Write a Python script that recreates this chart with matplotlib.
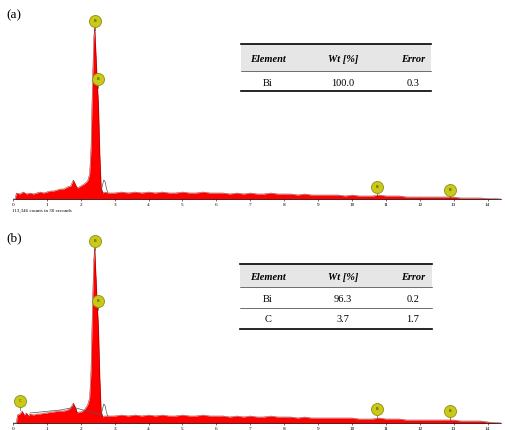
import matplotlib
matplotlib.use("Agg")
import matplotlib.pyplot as plt
from matplotlib.lines import Line2D
from matplotlib.patches import Rectangle

# ---------------- data ----------------
# Panel (a) spectrum: energy (keV) and counts (arbitrary units)
energy_a = [0.0, 0.06, 0.1, 0.2, 0.3, 0.4, 0.5, 0.6, 0.7, 0.8, 0.9, 1.0, 1.1, 1.2, 1.3,
            1.4, 1.5, 1.6, 1.7, 1.78, 1.85, 1.9, 1.95, 2.0, 2.1, 2.2, 2.26, 2.3, 2.34,
            2.38, 2.41, 2.44, 2.48, 2.52, 2.56, 2.6, 2.65, 2.7, 2.8, 2.9,
            3.0, 3.2, 3.4, 3.6, 3.8, 4.0, 4.2, 4.4, 4.6, 4.8, 5.0, 5.2, 5.4, 5.6, 5.8,
            6.0, 6.2, 6.4, 6.6, 6.8, 7.0, 7.2, 7.4, 7.6, 7.8, 8.0, 8.2, 8.4, 8.6, 8.8,
            9.0, 9.2, 9.4, 9.6, 9.8, 10.0, 10.2, 10.4, 10.6, 10.8, 11.0, 11.2, 11.4,
            11.6, 11.8, 12.0, 12.2, 12.4, 12.6, 12.8, 13.0, 13.2, 13.4, 13.6, 13.8,
            14.0, 14.2, 14.4]
counts_a = [0, 0, 6, 5, 7, 5, 6, 5, 6, 7, 6, 7, 8, 8, 9,
            10, 10, 12, 13, 19, 14, 11, 12, 13, 15, 18, 25, 50, 110,
            160, 172, 150, 120, 95, 45, 12, 6, 7, 6, 6,
            6, 7, 6, 7, 6, 7, 6, 7, 6, 6, 7, 6, 6, 7, 6,
            6, 6, 5, 6, 5, 6, 5, 5, 6, 5, 5, 5, 4, 5, 4,
            4, 4, 4, 4, 3, 4, 3, 3, 3, 4, 3, 3, 3,
            2, 2, 2, 2, 2, 2, 2, 2, 1, 1, 1, 1,
            0.5, 0.3, 0]
fit_energy_a = [2.6, 2.64, 2.68, 2.72, 2.76, 2.8]
fit_counts_a = [8, 14, 19, 17, 10, 6]

# Panel (b) spectrum
energy_b = [0.0, 0.1, 0.13, 0.2, 0.27, 0.33, 0.4, 0.45, 0.5, 0.6, 0.7, 0.8, 0.9, 1.0, 1.1,
            1.2, 1.3, 1.4, 1.5, 1.6, 1.7, 1.78, 1.85, 1.9, 1.95, 2.0, 2.1, 2.2, 2.26,
            2.3, 2.34, 2.38, 2.41, 2.44, 2.48, 2.52, 2.56, 2.6, 2.65, 2.7, 2.8, 2.9,
            3.0, 3.2, 3.4, 3.6, 3.8, 4.0, 4.2, 4.4, 4.6, 4.8, 5.0, 5.2, 5.4, 5.6, 5.8,
            6.0, 6.2, 6.4, 6.6, 6.8, 7.0, 7.2, 7.4, 7.6, 7.8, 8.0, 8.2, 8.4, 8.6, 8.8,
            9.0, 9.2, 9.4, 9.6, 9.8, 10.0, 10.2, 10.4, 10.6, 10.8, 11.0, 11.2, 11.4,
            11.6, 11.8, 12.0, 12.2, 12.4, 12.6, 12.8, 13.0, 13.2, 13.4, 13.6, 13.8,
            14.0, 14.2, 14.4]
counts_b = [0, 0, 8, 9, 12, 8, 10, 7, 9, 8, 9, 9, 10, 10, 11,
            11, 12, 12, 12, 13, 15, 20, 15, 10, 11, 11, 13, 18, 25,
            52, 112, 162, 176, 152, 122, 96, 46, 12, 6, 7, 7, 7,
            7, 8, 7, 8, 7, 8, 7, 8, 7, 7, 8, 7, 7, 8, 7,
            7, 7, 6, 7, 6, 7, 6, 6, 7, 6, 6, 6, 5, 6, 5,
            5, 5, 5, 5, 5, 5, 4, 4, 4, 5, 4, 4, 4,
            3, 3, 3, 3, 3, 3, 3, 3, 2, 2, 2, 2,
            1, 0.5, 0]
fit_energy_b = [0.5, 0.8, 1.1, 1.4, 1.7, 1.75, 2.6, 2.64, 2.68, 2.72, 2.76, 2.8]
fit_counts_b = [10, 11, 12, 13, 15, 16, 8, 14, 19, 17, 10, 7]

# Element markers (energy, height of marker centre, label)
marker_energy_a = [2.42, 2.52, 10.74, 12.9]
marker_height_a = [178, 120, 12, 9]
marker_label_a = ["Bi", "Bi", "Bi", "Bi"]
marker_energy_b = [0.2, 2.42, 2.52, 10.74, 12.9]
marker_height_b = [22, 182, 122, 14, 12]
marker_label_b = ["C", "Bi", "Bi", "Bi", "Bi"]

x_ticks = list(range(0, 15))

# Tables
table_header = ["Element", "Wt [%]", "Error"]
table_a_rows = [["Bi", "100.0", "0.3"]]
table_b_rows = [["Bi", "96.3", "0.2"], ["C", "3.7", "1.7"]]

# ---------------- figure ----------------
W, H = 506, 431
fig = plt.figure(figsize=(W / 100, H / 100), dpi=100)
SERIF = ["Liberation Serif", "DejaVu Serif"]

x0_px, x1_px = 13, 501
xmax = (x1_px - x0_px) / 33.9


def add_panel(base_px, energy, counts, fit_e, fit_c, m_e, m_h, m_l):
    ax = fig.add_axes([x0_px / W, (H - base_px) / H, (x1_px - x0_px) / W, 188 / H])
    ax.fill_between(energy, counts, 0, color="#ff0000", lw=0)
    ax.plot(energy, counts, color="#7a0000", lw=0.3)
    ax.plot(fit_e, fit_c, color="#555555", lw=0.5)
    for e, h, lab in zip(m_e, m_h, m_l):
        ax.plot([e, e], [h - 9, h - 2], color="#333300", lw=0.4, zorder=4)
        ax.scatter([e], [h], s=75, color="#c9c91a", edgecolors="#8f8f10",
                   linewidths=0.6, zorder=5)
        ax.text(e, h + 0.5, lab, fontsize=2.6, ha="center", va="center",
                color="#333300", zorder=6)
    ax.set_xlim(0, xmax)
    ax.set_ylim(0, 188)
    for s in ["top", "right", "left"]:
        ax.spines[s].set_visible(False)
    ax.spines["bottom"].set_linewidth(0.5)
    ax.set_yticks([])
    ax.set_xticks(x_ticks)
    ax.set_xticklabels([str(t) for t in x_ticks])
    ax.tick_params(axis="x", length=1.5, width=0.4, labelsize=3.8, pad=1)
    for lab in ax.get_xticklabels():
        lab.set_family(SERIF)
    ax.patch.set_alpha(0)
    return ax


ax_a = add_panel(200, energy_a, counts_a, fit_energy_a, fit_counts_a,
                 marker_energy_a, marker_height_a, marker_label_a)
ax_b = add_panel(424, energy_b, counts_b, fit_energy_b, fit_counts_b,
                 marker_energy_b, marker_height_b, marker_label_b)

fig.text(12 / W, 1 - 211 / H, "113,346 counts in 30 seconds", fontsize=3.6,
         family=SERIF, ha="left", va="center")

fig.text(6 / W, 1 - 15 / H, "(a)", fontsize=9.5, family=SERIF, ha="left", va="center")
fig.text(6 / W, 1 - 238 / H, "(b)", fontsize=9.5, family=SERIF, ha="left", va="center")


def hline(y_px, xa, xb, lw):
    fig.add_artist(Line2D([xa / W, xb / W], [1 - y_px / H, 1 - y_px / H],
                          color="black", lw=lw, transform=fig.transFigure))


def draw_table(left, right, top, header_bottom, header_y, row_ys, sep_ys, bottom, rows):
    cols = [268, 343, 413]
    fig.add_artist(Rectangle((left / W, 1 - header_bottom / H), (right - left) / W,
                             (header_bottom - top) / H, transform=fig.transFigure,
                             facecolor="#e6e6e6", edgecolor="none"))
    hline(top, left, right, 1.2)
    hline(header_bottom, left, right, 0.4)
    for y in sep_ys:
        hline(y, left, right, 0.4)
    hline(bottom, left, right, 1.2)
    for cx, txt in zip(cols, table_header):
        fig.text(cx / W, 1 - header_y / H, txt, fontsize=7.5, family=SERIF,
                 style="italic", weight="bold", ha="center", va="center")
    for ry, row in zip(row_ys, rows):
        for cx, txt in zip(cols, row):
            fig.text(cx / W, 1 - ry / H, txt, fontsize=7.5, family=SERIF,
                     ha="center", va="center")


draw_table(241, 431, 45, 72, 59, [83], [], 92, table_a_rows)
draw_table(240, 432, 265, 288, 277, [300, 320], [309], 330, table_b_rows)

fig.savefig("out.png", dpi=100)
